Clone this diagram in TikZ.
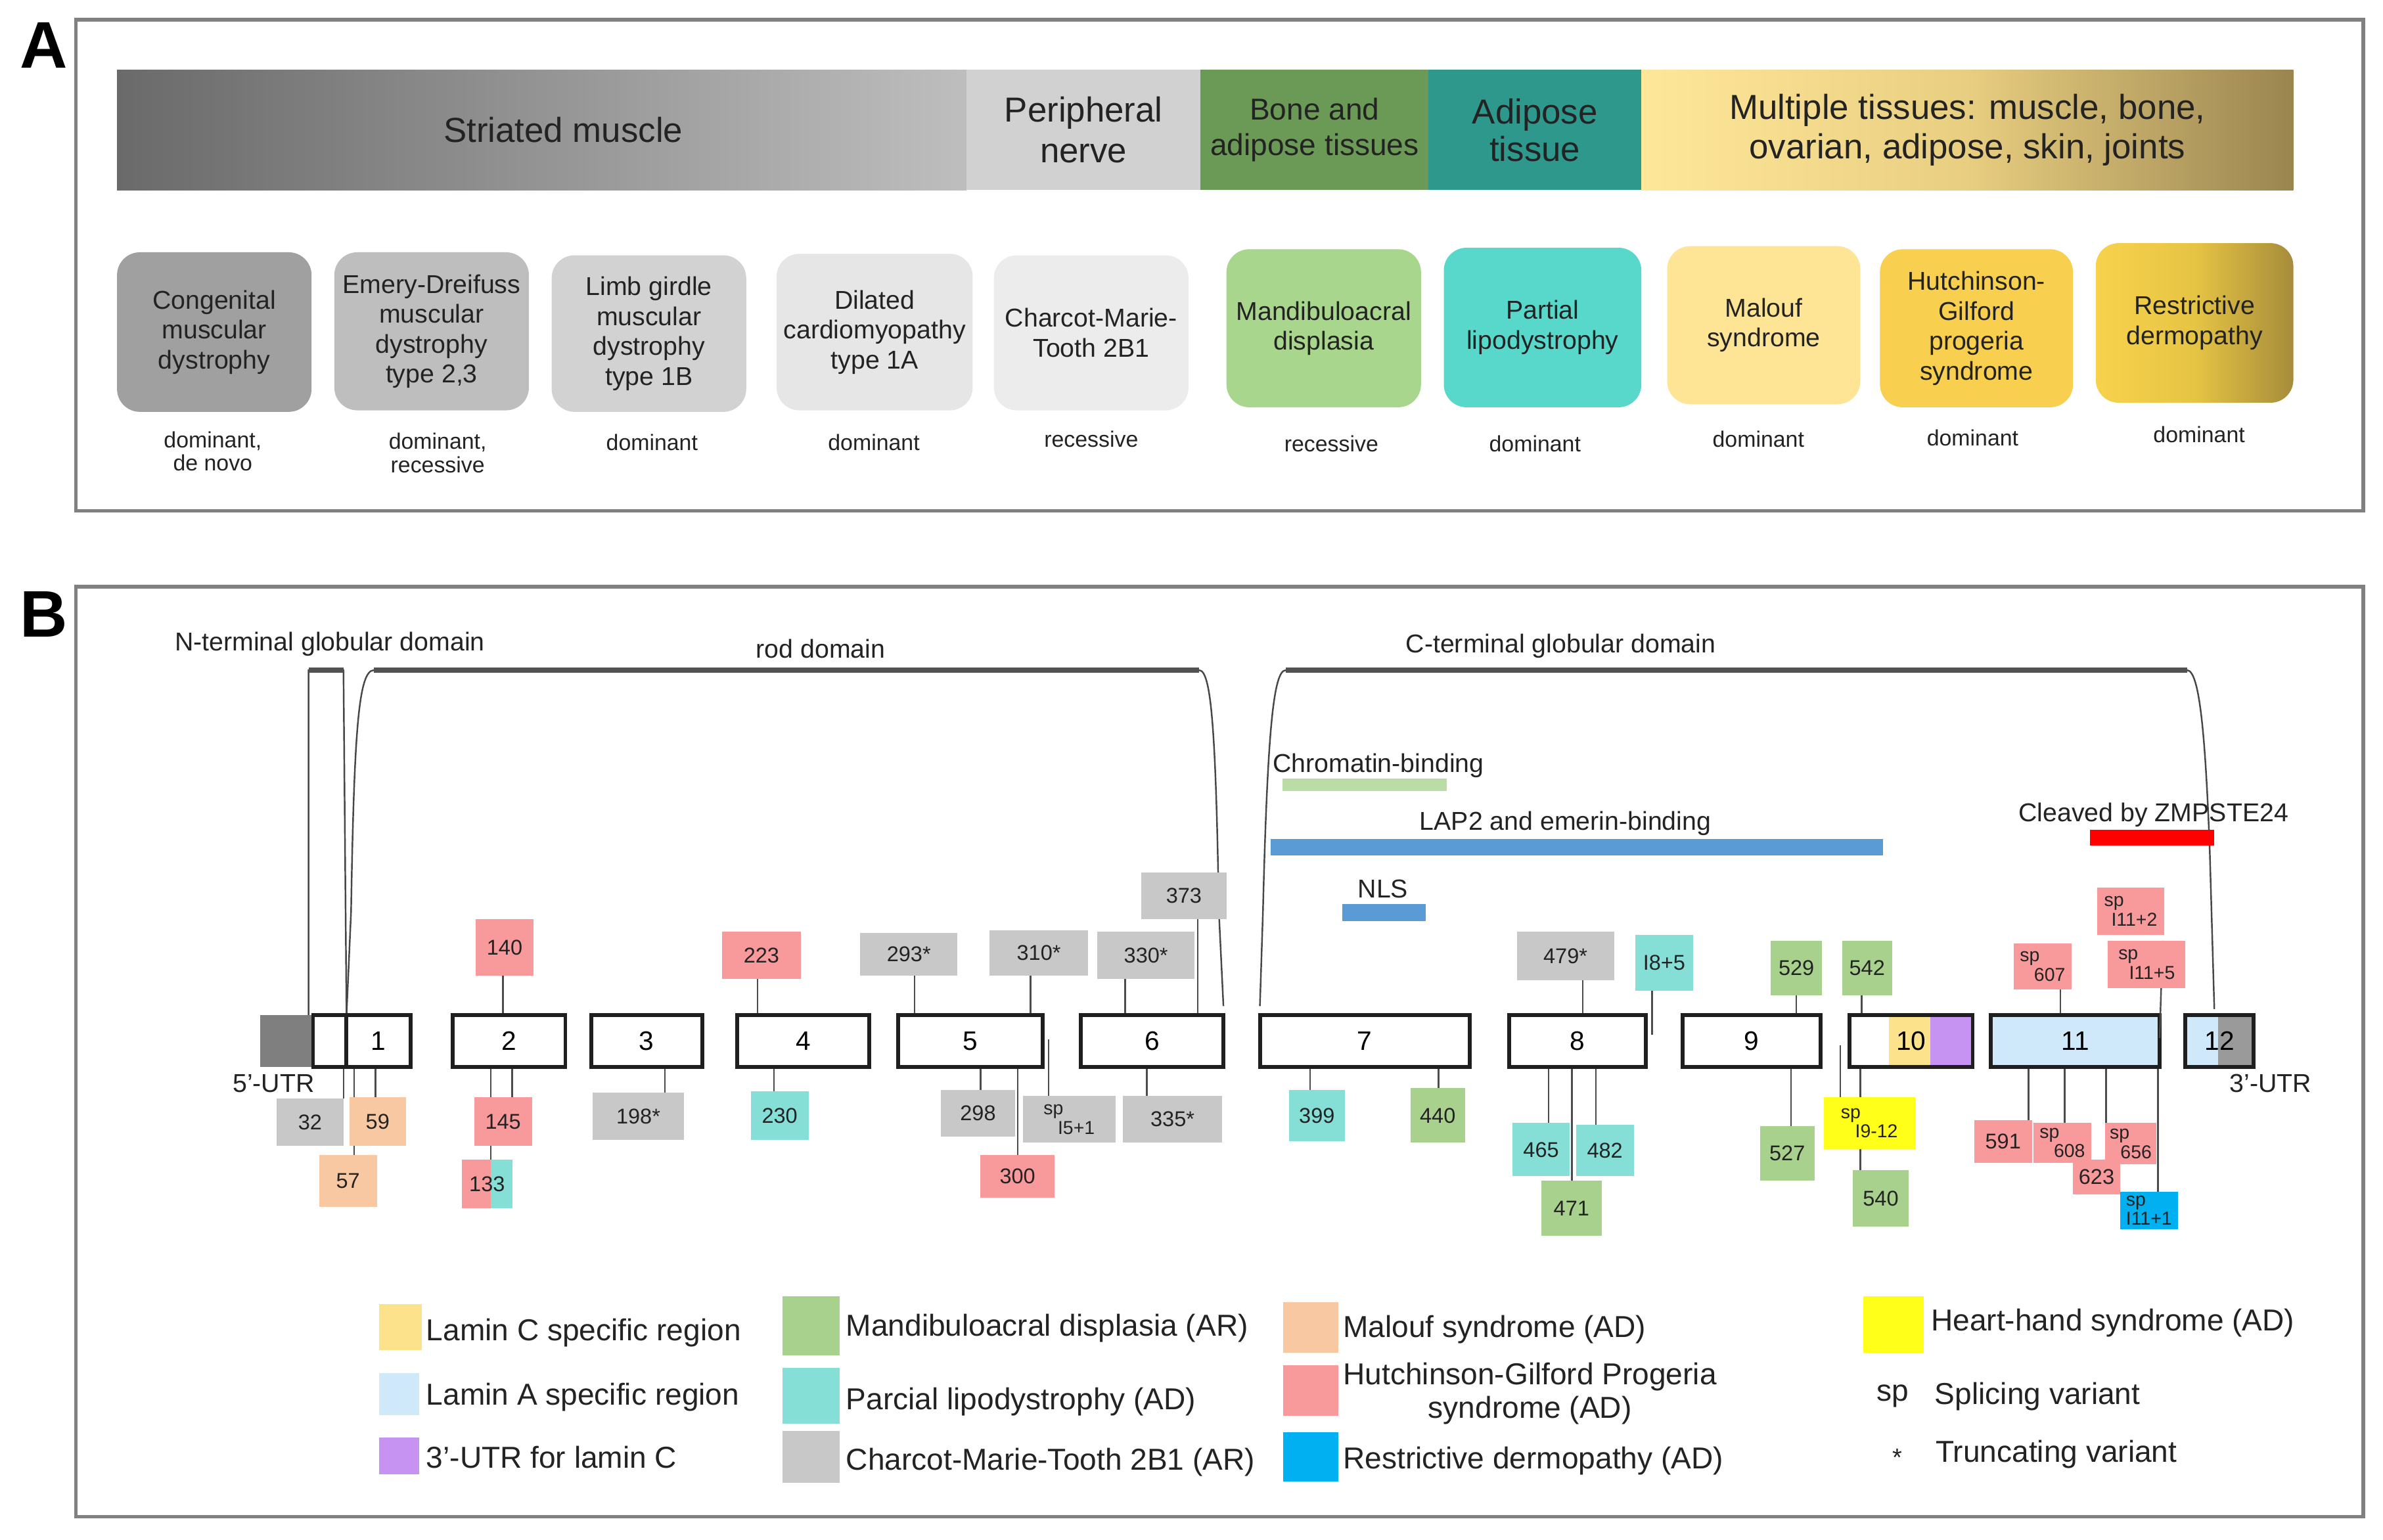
\documentclass[tikz,border=0pt]{standalone}
\usepackage{fontspec}
\setmainfont{Liberation Sans}
\definecolor{ctxt}{HTML}{232323}
\definecolor{cframe}{HTML}{808080}
\definecolor{cpink}{HTML}{F8999C}
\definecolor{cgray}{HTML}{C8C8C8}
\definecolor{cturq}{HTML}{86DFD7}
\definecolor{cgreen}{HTML}{A9D18E}
\definecolor{cpeach}{HTML}{F8C8A2}
\definecolor{cblue}{HTML}{00B0F0}
\definecolor{cyel}{HTML}{FFFF1A}
\definecolor{clamc}{HTML}{FDE28C}
\definecolor{clama}{HTML}{CFE8FA}
\definecolor{cpurp}{HTML}{C693F2}
\definecolor{cdom}{HTML}{5B9BD5}
\definecolor{cchrom}{HTML}{B9DDA5}
\definecolor{cutr}{HTML}{7F7F7F}
\definecolor{cutrb}{HTML}{9A9A9A}
\definecolor{cSa}{HTML}{6A6A6A}
\definecolor{cSb}{HTML}{BEBEBE}
\definecolor{cPer}{HTML}{D1D1D1}
\definecolor{cBone}{HTML}{6B9A57}
\definecolor{cAdip}{HTML}{2E988C}
\definecolor{cMa}{HTML}{FFE79A}
\definecolor{cMm}{HTML}{E8CE80}
\definecolor{cMb}{HTML}{9A8550}
\definecolor{cDa}{HTML}{A0A0A0}
\definecolor{cDb}{HTML}{BEBEBE}
\definecolor{cDc}{HTML}{D2D2D2}
\definecolor{cDd}{HTML}{E6E6E6}
\definecolor{cDe}{HTML}{ECECEC}
\definecolor{cDf}{HTML}{A8D68C}
\definecolor{cDg}{HTML}{58D8CB}
\definecolor{cDh}{HTML}{FEE495}
\definecolor{cDi}{HTML}{F8CF4E}
\definecolor{cDja}{HTML}{F7D24C}
\definecolor{cDjm}{HTML}{E6C444}
\definecolor{cDjb}{HTML}{A68C3B}
% box node from corner (x1,y1) to (x2,y2): name, x1, y1, x2, y2, style, text
\newcommand\bx[7]{\node[#6, minimum width={(#4-#2)*0.3mm}, minimum height={(#5-#3)*0.3mm}] (#1) at ({(#2+#4)/2},{(#3+#5)/2}) {#7};}
\begin{document}
\begin{tikzpicture}[x=0.3mm,y=-0.3mm,
  frame/.style={draw=cframe, line width=2pt},
  panel/.style={inner sep=0pt, text=black, font=\fontsize{37}{40}\selectfont\bfseries},
  hdr/.style={inner sep=0pt, draw=none, align=center, text=ctxt, font=\fontsize{19.5}{22}\selectfont},
  dbox/.style={inner sep=0pt, draw=none, rounded corners=4.5mm, align=center, text=ctxt, font=\fontsize{14.5}{16.8}\selectfont},
  inh/.style={inner sep=0pt, align=center, text=ctxt, font=\fontsize{12.5}{13.2}\selectfont},
  dlab/.style={inner sep=0pt, text=ctxt, font=\fontsize{14.5}{17}\selectfont},
  sw/.style={inner sep=0pt, draw=none},
  exon/.style={inner sep=0pt, draw=black!88, line width=2.2pt, fill=white, text=black, font=\fontsize{15}{17}\selectfont},
  mut/.style={inner sep=0pt, draw=none, text=ctxt, font=\fontsize{12}{13}\selectfont},
  spm/.style={mut, align=left, font=\fontsize{10.5}{11}\selectfont},
  conn/.style={draw=black!70, line width=0.9pt},
  brk/.style={draw=black!72, line width=0.9pt},
  brktop/.style={draw=black!68, line width=3pt},
  leg/.style={inner sep=0pt, anchor=west, text=ctxt, font=\fontsize{17}{19}\selectfont}
]
\useasboundingbox[fill=white] (0,0) rectangle (1568,1013);

% ---------------- Panel A ----------------
\draw[frame] (50,13) rectangle (1555,336);
\node[panel] (lA) at (29,30) {A};

\bx{hS}{77}{46}{636}{125}{hdr, left color=cSa, right color=cSb}{\hspace*{24pt}Striated muscle}
\bx{hP}{636}{46}{790}{125}{hdr, fill=cPer, font=\fontsize{19.5}{23}\selectfont}{Peripheral\\nerve}
\bx{hB}{790}{46}{940}{125}{hdr, fill=cBone, font=\fontsize{17}{20}\selectfont}{Bone and\\adipose tissues}
\bx{hA}{940}{46}{1080}{125}{hdr, fill=cAdip, font=\fontsize{19.5}{21}\selectfont}{Adipose\\tissue}
\bx{hM}{1080}{46}{1509}{125}{hdr, left color=cMa, right color=cMb, middle color=cMm}{Multiple tissues: muscle, bone,\\ovarian, adipose, skin, joints}

\bx{d1}{77}{166}{205}{271}{dbox, fill=cDa}{Congenital\\muscular\\dystrophy}
\bx{d2}{220}{166}{348}{270}{dbox, fill=cDb}{Emery-Dreifuss\\muscular\\dystrophy\\type 2,3}
\bx{d3}{363}{168}{491}{271}{dbox, fill=cDc}{Limb girdle\\muscular\\dystrophy\\type 1B}
\bx{d4}{511}{167}{640}{270}{dbox, fill=cDd}{Dilated\\cardiomyopathy\\type 1A}
\bx{d5}{654}{168}{782}{270}{dbox, fill=cDe}{Charcot-Marie-\\Tooth 2B1}
\bx{d6}{807}{164}{935}{268}{dbox, fill=cDf}{Mandibuloacral\\displasia}
\bx{d7}{950}{163}{1080}{268}{dbox, fill=cDg}{Partial\\lipodystrophy}
\bx{d8}{1097}{162}{1224}{266}{dbox, fill=cDh}{Malouf\\syndrome}
\bx{d9}{1237}{164}{1364}{268}{dbox, fill=cDi}{Hutchinson-\\Gilford\\progeria\\syndrome}
\bx{d10}{1379}{160}{1509}{265}{dbox, left color=cDja, right color=cDjb, middle color=cDjm}{Restrictive\\dermopathy}

\node[inh] (i1) at (140,297) {dominant,\\de novo};
\node[inh] (i2) at (288,298) {dominant,\\recessive};
\node[inh] (i3) at (429,291) {dominant};
\node[inh] (i4) at (575,291) {dominant};
\node[inh] (i5) at (718,289) {recessive};
\node[inh] (i6) at (876,292) {recessive};
\node[inh] (i7) at (1010,292) {dominant};
\node[inh] (i8) at (1157,289) {dominant};
\node[inh] (i9) at (1298,288) {dominant};
\node[inh] (i10) at (1447,286) {dominant};

% ---------------- Panel B ----------------
\draw[frame] (50,386) rectangle (1555,998);
\node[panel] (lB) at (29,404) {B};

\node[dlab] (tN) at (217,424) {N-terminal globular domain};
\node[dlab] (tR) at (540,427) {rod domain};
\node[dlab] (tC) at (1027,425) {C-terminal globular domain};

% domain brackets
\draw[brk] (203,668) -- (203,441) -- (226,441) -- (228,668);
\draw[brk] (228,668) -- (231,600) .. controls (233,480) and (236,441) .. (246,441) -- (789,441) .. controls (797,441) and (800,480) .. (802,600) -- (805,662);
\draw[brk] (829,662) -- (831,600) .. controls (834,480) and (838,441) .. (846,441) -- (1439,441) .. controls (1447,441) and (1451,480) .. (1454,560) -- (1457,664);
\draw[brktop] (203,441) -- (226,441);
\draw[brktop] (246,441) -- (789,441);
\draw[brktop] (846,441) -- (1439,441);

% functional regions
\bx{bChr}{843.7}{512.3}{952}{520.3}{sw, fill=cchrom}{}
\node[dlab] (tChr) at (907,504) {Chromatin-binding};
\bx{bLap}{836}{552}{1239}{563}{sw, fill=cdom}{}
\node[dlab] (tLap) at (1030,542) {LAP2 and emerin-binding};
\bx{bNLS}{883}{595}{938}{606}{sw, fill=cdom}{}
\node[dlab] (tNLS) at (910,585) {NLS};
\bx{bZmp}{1375}{546}{1457}{556.5}{sw, fill=red}{}
\node[dlab] (tZmp) at (1417,536) {Cleaved by ZMPSTE24};

% exons
\bx{utr5}{171}{668}{206}{702}{sw, fill=cutr}{}
\bx{e1a}{206}{668}{228}{702}{exon}{}
\bx{e1}{228}{668}{270}{702}{exon}{1}
\bx{e2}{298}{668}{372}{702}{exon}{2}
\bx{e3}{389}{668}{462}{702}{exon}{3}
\bx{e4}{485}{668}{572}{702}{exon}{4}
\bx{e5}{591}{668}{686}{702}{exon}{5}
\bx{e6}{711}{668}{805}{702}{exon}{6}
\bx{e7}{829}{668}{967}{702}{exon}{7}
\bx{e8}{993}{668}{1083}{702}{exon}{8}
\bx{e9}{1107}{668}{1198}{702}{exon}{9}
\fill[white] (1217,668) rectangle (1243,702);
\fill[clamc] (1243,668) rectangle (1270,702);
\fill[cpurp] (1270,668) rectangle (1298,702);
\bx{e10}{1217}{668}{1298}{702}{exon, fill=none}{10}
\bx{e11}{1310}{668}{1421}{702}{exon, fill=clama}{11}
\fill[clama] (1438,668) rectangle (1459.5,702);
\fill[cutrb] (1459.5,668) rectangle (1483,702);
\bx{e12}{1438}{668}{1483}{702}{exon, fill=none}{12}
\node[dlab] (t5) at (180,713) {5'-UTR};
\node[dlab] (t3) at (1494,713) {3'-UTR};

% free connector ends
\coordinate (i51top) at (690,684);
\coordinate (i85end) at (1087,681);
\coordinate (i115end) at (1421,683);
\coordinate (i912top) at (1211,688);

% connectors (drawn beneath the variant boxes)
\draw[conn] (331,0 |- e2.north) -- (331,605);
\draw[conn] (498.5,0 |- e4.north) -- (498.5,613);
\draw[conn] (601.7,0 |- e5.north) -- (601.7,614);
\draw[conn] (678,0 |- e5.north) -- (678,612);
\draw[conn] (740.4,0 |- e6.north) -- (740.4,613);
\draw[conn] (788.2,0 |- e6.north) -- (788.2,574);
\draw[conn] (1041.4,0 |- e8.north) -- (1041.4,613);
\draw[conn] (i85end) -- (1087,615);
\draw[conn] (1182,0 |- e9.north) -- (1182,619);
\draw[conn] (1225,0 |- e10.north) -- (1225,619);
\draw[conn] (1355.7,0 |- e11.north) -- (1355.7,621);
\draw[conn] (i115end) -- (1423,619);
\draw[conn] (226,0 |- e1a.south) -- (226,723);
\draw[conn] (233,0 |- e1.south) -- (233,760);
\draw[conn] (247,0 |- e1.south) -- (247,722);
\draw[conn] (323,0 |- e2.south) -- (323,763);
\draw[conn] (337,0 |- e2.south) -- (337,722);
\draw[conn] (437.6,0 |- e3.south) -- (437.6,719);
\draw[conn] (509.3,0 |- e4.south) -- (509.3,718);
\draw[conn] (645.3,0 |- e5.south) -- (645.3,717);
\draw[conn] (669.6,0 |- e5.south) -- (669.6,760);
\draw[conn] (i51top) -- (690,735);
\draw[conn] (754.5,0 |- e6.south) -- (754.5,721);
\draw[conn] (862,0 |- e7.south) -- (862,717);
\draw[conn] (946.6,0 |- e7.south) -- (946.6,716);
\draw[conn] (1019,0 |- e8.south) -- (1019,739);
\draw[conn] (1050,0 |- e8.south) -- (1050,740);
\draw[conn] (1034.3,0 |- e8.south) -- (1034.3,777);
\draw[conn] (1178.5,0 |- e9.south) -- (1178.5,741);
\draw[conn] (i912top) -- (1211,722);
\draw[conn] (1224,0 |- e10.south) -- (1224,770);
\draw[conn] (1334.7,0 |- e11.south) -- (1334.7,737);
\draw[conn] (1358.6,0 |- e11.south) -- (1358.6,739);
\draw[conn] (1385.7,0 |- e11.south) -- (1385.7,763);
\draw[conn] (1420,0 |- e11.south) -- (1420,784);

% variants above the exons
\bx{m140}{313}{605}{351}{642}{mut, fill=cpink}{140}
\bx{m223}{475}{613}{527}{644}{mut, fill=cpink}{223}
\bx{m293}{566}{614}{630}{642}{mut, fill=cgray}{293*}
\bx{m310}{651}{612}{716}{642}{mut, fill=cgray}{310*}
\bx{m330}{722}{613}{786}{644}{mut, fill=cgray}{330*}
\bx{m373}{751}{574}{807}{605}{mut, fill=cgray}{373}
\bx{m479}{998}{613}{1062}{645}{mut, fill=cgray}{479*}
\bx{mI85}{1076}{615}{1114}{652}{mut, fill=cturq}{I8+5}
\bx{m529}{1165}{619}{1199}{655}{mut, fill=cgreen}{529}
\bx{m542}{1212}{619}{1245}{655}{mut, fill=cgreen}{542}
\bx{m607}{1325}{621}{1363}{651}{spm, fill=cpink}{sp\\\hspace*{8pt}607}
\bx{mI112}{1380}{584}{1424}{615}{spm, fill=cpink}{sp\\\hspace*{4pt}I11+2}
\bx{mI115}{1387}{619}{1438}{650}{spm, fill=cpink}{sp\\\hspace*{6pt}I11+5}

% variants below the exons
\bx{m32}{182}{723}{226}{754}{mut, fill=cgray}{32}
\bx{m59}{230}{722}{267}{754}{mut, fill=cpeach}{59}
\bx{m57}{210}{760}{248}{794}{mut, fill=cpeach}{57}
\bx{m145}{312}{722}{350}{754}{mut, fill=cpink}{145}
\fill[cpink] (304,763) rectangle (323,795);
\fill[cturq] (323,763) rectangle (337,795);
\bx{m133}{304}{763}{337}{795}{mut}{133}
\bx{m198}{390}{719}{450}{750}{mut, fill=cgray}{198*}
\bx{m230}{494}{718}{532}{750}{mut, fill=cturq}{230}
\bx{m298}{619}{717}{668}{748}{mut, fill=cgray}{298}
\bx{m300}{645}{760}{694}{788}{mut, fill=cpink}{300}
\bx{mI51}{673}{721}{734}{752}{spm, fill=cgray}{sp\\\hspace*{8pt}I5+1}
\bx{m335}{739}{721}{804}{752}{mut, fill=cgray}{335*}
\bx{m399}{848}{717}{885}{751}{mut, fill=cturq}{399}
\bx{m440}{928}{716}{964}{752}{mut, fill=cgreen}{440}
\bx{m465}{995}{739}{1033}{774}{mut, fill=cturq}{465}
\bx{m482}{1037}{740}{1075}{774}{mut, fill=cturq}{482}
\bx{m471}{1014}{777}{1054}{813}{mut, fill=cgreen}{471}
\bx{m527}{1158}{741}{1194}{777}{mut, fill=cgreen}{527}
\bx{mI912}{1200}{722}{1260}{756}{spm, fill=cyel}{sp\\\hspace*{8pt}I9-12}
\bx{m540}{1219}{770}{1256}{807}{mut, fill=cgreen}{540}
\bx{m591}{1299}{737}{1337}{765}{mut, fill=cpink}{591}
\bx{m608}{1338}{739}{1376}{765}{spm, fill=cpink}{sp\\\hspace*{8pt}608}
\bx{m623}{1364}{763}{1395}{786}{mut, fill=cpink}{623}
\bx{m656}{1385}{739}{1419}{766}{spm, fill=cpink}{sp\\\hspace*{6pt}656}
\bx{mI111}{1395}{784}{1433}{809}{spm, fill=cblue}{sp\\I11+1}

% legend
\bx{sLC}{249.6}{858}{277.4}{888.4}{sw, fill=clamc}{}
\node[leg] (tLC) at (280.3,877) {Lamin C specific region};
\bx{sLA}{249.6}{903.5}{275.7}{931}{sw, fill=clama}{}
\node[leg] (tLA) at (280.3,919.4) {Lamin A specific region};
\bx{sPU}{249.6}{946}{275.7}{970}{sw, fill=cpurp}{}
\node[leg] (tPU) at (280.3,959) {3'-UTR for lamin C};
\bx{sMA}{514.8}{853}{552.4}{892}{sw, fill=cgreen}{}
\node[leg] (tMA) at (556.5,874) {Mandibuloacral displasia (AR)};
\bx{sPL}{514.8}{900}{552.4}{936.7}{sw, fill=cturq}{}
\node[leg] (tPL) at (556.5,922.3) {Parcial lipodystrophy (AD)};
\bx{sCM}{514.8}{941.7}{552.4}{975.6}{sw, fill=cgray}{}
\node[leg] (tCM) at (556.5,962) {Charcot-Marie-Tooth 2B1 (AR)};
\bx{sMS}{844.2}{856.7}{880.7}{890}{sw, fill=cpeach}{}
\node[leg] (tMS) at (883.6,874.7) {Malouf syndrome (AD)};
\bx{sHG}{844.2}{898.5}{880.7}{931.6}{sw, fill=cpink}{}
\node[leg, align=center] (tHG) at (883.6,917) {Hutchinson-Gilford Progeria\\syndrome (AD)};
\bx{sRD}{844.2}{942.4}{880.7}{975}{sw, fill=cblue}{}
\node[leg] (tRD) at (883.6,961.2) {Restrictive dermopathy (AD)};
\bx{sHH}{1226}{853}{1265.7}{890}{sw, fill=cyel}{}
\node[leg] (tHH) at (1270.4,870.4) {Heart-hand syndrome (AD)};
\node[inner sep=0pt, text=ctxt, font=\fontsize{17}{19}\selectfont] (kSP) at (1245.5,918.7) {sp};
\node[leg] (tSP) at (1272.9,918.7) {Splicing variant};
\node[inner sep=0pt, text=ctxt, font=\fontsize{14}{16}\selectfont] (kTR) at (1248.6,959) {*};
\node[leg] (tTR) at (1273.5,957) {Truncating variant};
\end{tikzpicture}
\end{document}
